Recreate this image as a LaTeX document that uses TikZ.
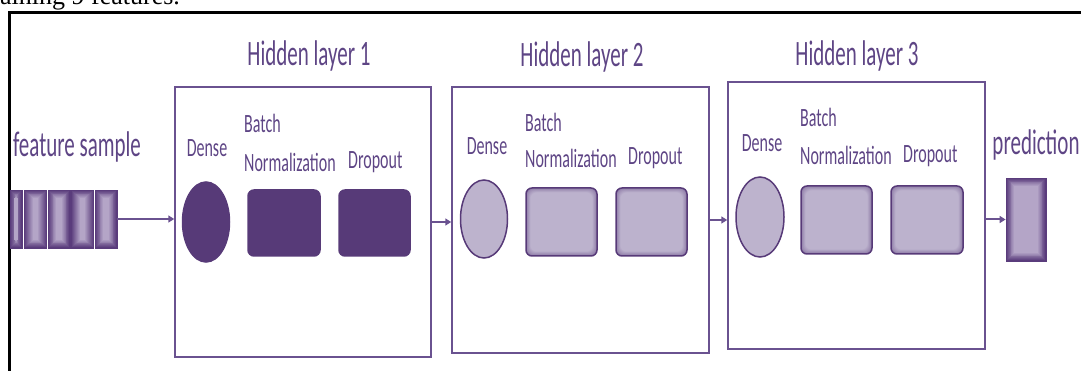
\documentclass[tikz,border=0pt]{standalone}
\usepackage{graphicx}
\usepackage{fontspec}
\setmainfont{Carlito}
\newfontfamily\timesf{Liberation Serif}
\usetikzlibrary{shapes.geometric,arrows.meta,calc}
\definecolor{ptext}{HTML}{5E4585}
\definecolor{pdark}{HTML}{573A78}
\definecolor{plight}{HTML}{BDB3CD}
\definecolor{pline}{HTML}{6A5290}
\definecolor{pedge}{HTML}{8E7BA8}
\definecolor{cdark}{HTML}{5A3C7C}
\definecolor{clight}{HTML}{B5A6C8}
\newcommand{\tallT}[1]{\scalebox{1}[1.7]{#1}}
\newcommand{\tallL}[1]{\scalebox{1}[1.65]{#1}}
\tikzset{
  glow/.style n args={4}{path picture={
    \foreach \i in {0,...,9}{
      \pgfmathtruncatemacro\pc{100-\i*11}
      \fill[#1!\pc!#2, rounded corners=#4]
        ($(path picture bounding box.north west)+(\i*#3,-\i*#3)$) rectangle
        ($(path picture bounding box.south east)+(-\i*#3,\i*#3)$);
    }}},
  title/.style={font=\fontsize{21}{21}\selectfont, text=ptext, inner sep=0, anchor=base},
  lbl/.style={font=\fontsize{16}{16}\selectfont, text=ptext, inner sep=0},
  layer/.style={draw=pline, line width=1.5pt, inner sep=0},
  dense/.style={ellipse, inner sep=0, line width=1.5pt},
  blk/.style={rectangle, rounded corners=6pt, inner sep=0, line width=1.5pt},
  dark/.style={fill=pdark, draw=pdark},
  light/.style={fill=plight, draw=pdark},
  lightglow/.style={fill=plight, draw=pdark, glow={pedge}{plight}{0.5pt}{6pt}},
  arr/.style={draw=pline, line width=2pt, -{Triangle[length=6pt,width=7pt]}},
  cell/.style={draw=cdark, line width=0.8pt, inner sep=0, minimum height=58pt,
    glow={cdark}{clight}{0.9pt}{0pt}},
}
\begin{document}
\begin{tikzpicture}[x=1pt,y=-1pt]
\useasboundingbox (0,0) rectangle (1081,371);

% clipped caption text at top and frame
\node[font=\timesf\fontsize{26}{26}\selectfont, anchor=base west, inner sep=0] (toptext) at (0,5) {aining 9 features.};
\draw[line width=3pt, black] (9,371) -- (9,13) -- (1081,13);

% feature sample
\node[cell, minimum width=12pt] (c1) at (16,219) {};
\node[cell, minimum width=22pt] (c2) at (35.5,219) {};
\node[cell, minimum width=22pt] (c3) at (59,219) {};
\node[cell, minimum width=22pt] (c4) at (82.5,219) {};
\node[cell, minimum width=22pt] (c5) at (106,219) {};
\node[title] (fs) at (77,157) {\tallT{feature sample}};

% Hidden layer 1
\node[layer, minimum width=256pt, minimum height=270pt] (L1) at (303,222) {};
\node[title] (T1) at (309,66) {\tallT{Hidden layer 1}};
\node[dense, dark, minimum width=47pt, minimum height=80pt] (D1) at (206,222) {};
\node[blk, dark, minimum width=72pt, minimum height=66pt] (B1) at (284,223) {};
\node[blk, dark, minimum width=71pt, minimum height=66pt] (P1) at (374.5,223) {};
\node[lbl, anchor=base] (dl1) at (207,157) {\tallL{Dense}};
\node[lbl, anchor=base west] (bl1a) at (244,133) {\tallL{Batch}};
\node[lbl, anchor=base west] (bl1b) at (244,172) {\tallL{Normalization}};
\node[lbl, anchor=base west] (pl1) at (348,169) {\tallL{Dropout}};

% Hidden layer 2
\node[layer, minimum width=257pt, minimum height=266pt] (L2) at (580.5,220) {};
\node[title] (T2) at (582,67) {\tallT{Hidden layer 2}};
\node[dense, light, minimum width=47pt, minimum height=78pt] (D2) at (484,219) {};
\node[blk, lightglow, minimum width=71pt, minimum height=68pt] (B2) at (561.5,222) {};
\node[blk, lightglow, minimum width=71pt, minimum height=68pt] (P2) at (651.5,222) {};
\node[lbl, anchor=base] (dl2) at (487,155) {\tallL{Dense}};
\node[lbl, anchor=base west] (bl2a) at (525,132) {\tallL{Batch}};
\node[lbl, anchor=base west] (bl2b) at (525,168) {\tallL{Normalization}};
\node[lbl, anchor=base west] (pl2) at (628,165) {\tallL{Dropout}};

% Hidden layer 3
\node[layer, minimum width=257pt, minimum height=267pt] (L3) at (856.5,215.5) {};
\node[title] (T3) at (857,66) {\tallT{Hidden layer 3}};
\node[dense, light, minimum width=48pt, minimum height=80pt] (D3) at (760,217) {};
\node[blk, lightglow, minimum width=71pt, minimum height=68pt] (B3) at (836.5,220) {};
\node[blk, lightglow, minimum width=72pt, minimum height=68pt] (P3) at (927,220) {};
\node[lbl, anchor=base] (dl3) at (762,152) {\tallL{Dense}};
\node[lbl, anchor=base west] (bl3a) at (800,127) {\tallL{Batch}};
\node[lbl, anchor=base west] (bl3b) at (800,165) {\tallL{Normalization}};
\node[lbl, anchor=base west] (pl3) at (903,163) {\tallL{Dropout}};

% prediction
\node[cell, minimum width=40pt, minimum height=83pt] (pred) at (1026,219.5) {};
\node[title] (pt) at (1036,155) {\tallT{prediction}};

% connectors
\draw[arr] (c5.east) -- (c5.east -| L1.west);
\draw[arr] (L1.east) -- (L1.east -| L2.west);
\draw[arr] (L2.east) -- (L2.east -| L3.west);
\draw[arr] (L3.east |- pred.west) -- (pred.west);
\end{tikzpicture}
\end{document}
